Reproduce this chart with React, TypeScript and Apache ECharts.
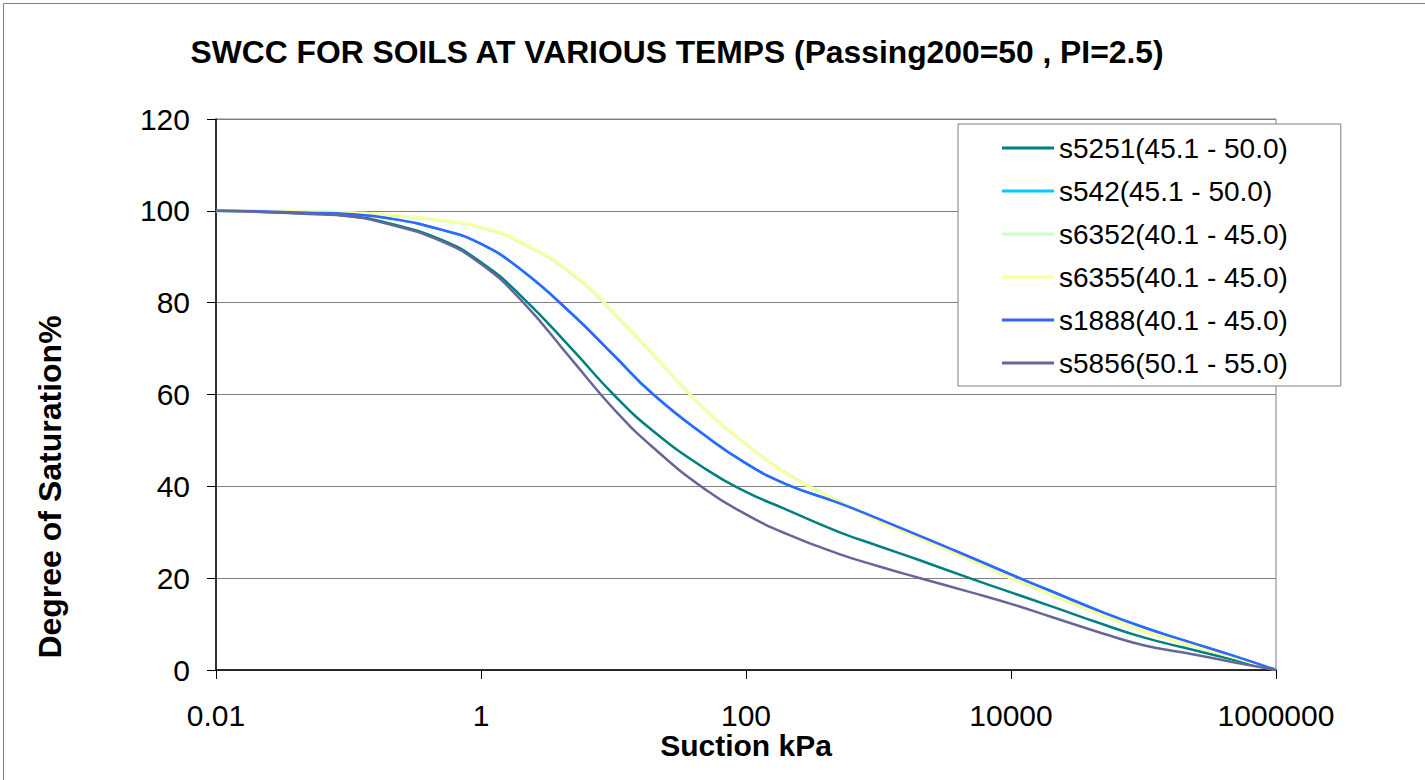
import React, { useEffect, useRef } from "react";
import * as echarts from "echarts";

const suction = [0.01, 0.02, 0.05, 0.1, 0.2, 0.5, 1, 2, 5, 10, 20, 50, 100, 200, 500, 1000, 2000, 5000, 10000, 20000, 50000, 100000, 200000, 500000, 1000000];

const s5251 = [100, 99.8, 99.4, 98.9, 97.3, 93.7, 88.8, 81.5, 69.5, 60.0, 52.0, 43.7, 38.8, 35.0, 30.1, 27.0, 24.0, 19.9, 16.9, 13.9, 9.9, 7.1, 4.9, 2.1, 0];
const s542 = [100, 99.9, 99.6, 99.3, 98.4, 95.9, 92.8, 87.2, 77.2, 68.6, 60.0, 50.9, 45.0, 40.5, 36.4, 32.9, 29.3, 24.5, 20.8, 17.2, 12.5, 9.3, 6.5, 2.9, 0];
const s6352 = [100, 99.95, 99.8, 99.6, 99.1, 97.9, 96.4, 93.1, 86.0, 77.8, 68.6, 56.5, 49.2, 42.9, 36.8, 32.6, 28.9, 23.9, 20.0, 16.4, 11.8, 8.5, 5.9, 2.6, 0];
const s6355 = [100, 99.95, 99.8, 99.6, 99.2, 98.0, 96.5, 93.2, 86.2, 78.0, 68.7, 56.5, 49.2, 42.8, 36.7, 32.5, 28.9, 23.9, 20.0, 16.4, 11.8, 8.5, 5.9, 2.6, 0];
const s1888 = [100, 99.9, 99.6, 99.3, 98.4, 95.9, 92.8, 87.2, 77.2, 68.6, 60.0, 50.9, 45.0, 40.5, 36.4, 32.9, 29.3, 24.5, 20.8, 17.2, 12.5, 9.3, 6.5, 2.9, 0];
const s5856 = [100, 99.8, 99.3, 98.8, 97.1, 93.4, 88.4, 80.6, 67.1, 56.9, 48.4, 39.2, 33.9, 29.7, 25.3, 22.6, 20.1, 16.9, 14.4, 11.6, 7.9, 5.4, 3.8, 1.6, 0];

const seriesNames = [
  "s5251(45.1 - 50.0)",
  "s542(45.1 - 50.0)",
  "s6352(40.1 - 45.0)",
  "s6355(40.1 - 45.0)",
  "s1888(40.1 - 45.0)",
  "s5856(50.1 - 55.0)",
];
const seriesValues = [s5251, s542, s6352, s6355, s1888, s5856];
const seriesColors = ["#008080", "#00CCFF", "#CCFFCC", "#FFFF99", "#3366FF", "#666699"];
const seriesWidths = [2.5, 2.5, 3.2, 2.5, 2.5, 2.5];

const titleText = "SWCC FOR SOILS AT VARIOUS TEMPS (Passing200=50 , PI=2.5)";
const xTitle = "Suction kPa";
const yTitle = "Degree of Saturation%";

const FONT = "'Liberation Sans', Arial, Helvetica, sans-serif";

export default function App() {
  const ref = useRef<HTMLDivElement>(null);
  useEffect(() => {
    if (!ref.current) return;
    const chart = echarts.init(ref.current, null, { renderer: "svg" });
    chart.setOption({
      animation: false,
      backgroundColor: "#ffffff",
      textStyle: { fontFamily: FONT },
      grid: { left: 216, top: 119, width: 1060, height: 551, show: true, borderColor: "#808080", borderWidth: 1, backgroundColor: "transparent" },
      legend: {
        orient: "vertical",
        left: 958,
        top: 124,
        padding: [9, 53, 8, 44],
        borderColor: "#808080",
        borderWidth: 1,
        backgroundColor: "#ffffff",
        icon: "rect",
        itemWidth: 52,
        itemHeight: 3,
        itemGap: 13,
        textStyle: { fontSize: 28, fontFamily: FONT, color: "#000", lineHeight: 30 },
        data: seriesNames,
      },
      xAxis: {
        type: "log",
        logBase: 100,
        min: 0.01,
        max: 1000000,
        splitNumber: 4,
        axisLine: { show: true, lineStyle: { color: "#000", width: 1.5 } },
        axisTick: { show: true, length: 9, lineStyle: { color: "#000" } },
        splitLine: { show: false },
        minorTick: { show: false },
        axisLabel: {
          fontSize: 30,
          color: "#000",
          fontFamily: FONT,
          margin: 30,
          formatter: (v: number) => String(Number(Number(v).toPrecision(6))),
        },
      },
      yAxis: {
        type: "value",
        min: 0,
        max: 120,
        interval: 20,
        axisLine: { show: true, lineStyle: { color: "#000", width: 1.5 } },
        axisTick: { show: true, length: 9, lineStyle: { color: "#000" } },
        splitLine: { show: true, lineStyle: { color: "#808080", width: 1 } },
        axisLabel: { fontSize: 30, color: "#000", fontFamily: FONT, margin: 26 },
      },
      graphic: [
        {
          type: "rect",
          shape: { x: 3.5, y: 3.5, width: 1440, height: 800 },
          style: { fill: "none", stroke: "#808080", lineWidth: 1 },
          silent: true,
        },
        {
          type: "text",
          x: 677,
          y: 52,
          style: { text: titleText, font: `bold 31.8px ${FONT}`, fill: "#000", textAlign: "center", textVerticalAlign: "middle" },
        },
        {
          type: "text",
          x: 746,
          y: 745,
          style: { text: xTitle, font: `bold 30px ${FONT}`, fill: "#000", textAlign: "center", textVerticalAlign: "middle" },
        },
        {
          type: "text",
          x: 50,
          y: 487,
          rotation: Math.PI / 2,
          style: { text: yTitle, font: `bold 32px ${FONT}`, fill: "#000", textAlign: "center", textVerticalAlign: "middle" },
        },
      ],
      series: seriesNames.map((name, i) => ({
        name,
        type: "line",
        data: suction.map((x, j) => [x, seriesValues[i][j]]),
        smooth: 0.5,
        showSymbol: false,
        symbol: "none",
        lineStyle: { color: seriesColors[i], width: seriesWidths[i] },
        itemStyle: { color: seriesColors[i] },
        z: 2 + i * 0.01,
      })),
    });
    return () => chart.dispose();
  }, []);
  return <div ref={ref} style={{ position: "fixed", left: 0, top: 0, width: 1425, height: 780 }} />;
}
